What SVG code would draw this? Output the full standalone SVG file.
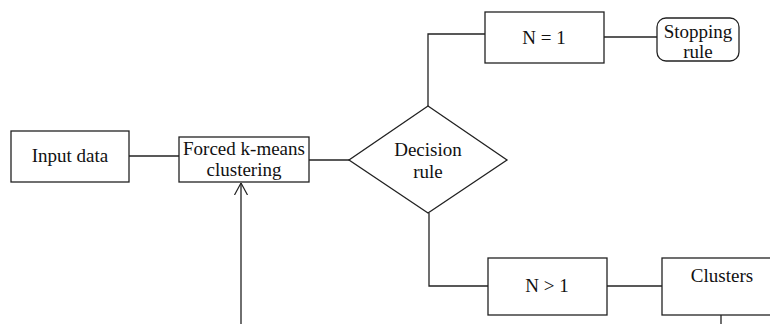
<svg xmlns="http://www.w3.org/2000/svg" width="770" height="324" viewBox="0 0 770 324">
<style>
.box{fill:#fff;stroke:#222;stroke-width:1.3}
.ln{fill:none;stroke:#222;stroke-width:1.3}
text{font-family:"Liberation Serif","Times New Roman",serif;font-size:19px;fill:#111;text-anchor:middle}
</style>
<defs>
<marker id="arr" viewBox="0 0 12 20" refX="12" refY="10" markerWidth="12" markerHeight="20" markerUnits="userSpaceOnUse" orient="auto">
<path d="M0,3.5 L12,10 L0,16.5" fill="none" stroke="#222" stroke-width="1.2"/>
</marker>
</defs>
<rect width="770" height="324" fill="#fff"/>
<g id="connectors">
<line class="ln" x1="129" y1="156" x2="179" y2="156"/>
<line class="ln" x1="309" y1="160" x2="349" y2="160"/>
<polyline class="ln" points="428,106 428,34 485,34"/>
<line class="ln" x1="604" y1="37" x2="657" y2="37"/>
<polyline class="ln" points="429,213 429,286 488,286"/>
<line class="ln" x1="607" y1="286" x2="662" y2="286"/>
<line class="ln" x1="721" y1="315" x2="721" y2="324"/>
<line class="ln" x1="241" y1="324" x2="241" y2="183" marker-end="url(#arr)"/>
</g>
<g id="input">
<rect class="box" x="11" y="131" width="118" height="51"/>
<text x="70" y="162">Input data</text>
</g>
<g id="kmeans">
<rect class="box" x="179" y="137" width="130" height="45"/>
<text x="244" y="155">Forced k-means</text>
<text x="244" y="176">clustering</text>
</g>
<g id="decision">
<polygon class="box" points="428,106 507,160 428,213 349,160"/>
<text x="428" y="156">Decision</text>
<text x="428" y="178">rule</text>
</g>
<g id="n1">
<rect class="box" x="485" y="12" width="119" height="51"/>
<text x="544" y="44">N = 1</text>
</g>
<g id="stop">
<rect class="box" x="657" y="18" width="82" height="43" rx="9" ry="9"/>
<text x="698" y="38">Stopping</text>
<text x="698" y="58">rule</text>
</g>
<g id="ngt1">
<rect class="box" x="488" y="258" width="119" height="57"/>
<text x="547" y="292">N &gt; 1</text>
</g>
<g id="clusters">
<rect class="box" x="662" y="258" width="120" height="57"/>
<text x="722" y="282">Clusters</text>
</g>
</svg>
